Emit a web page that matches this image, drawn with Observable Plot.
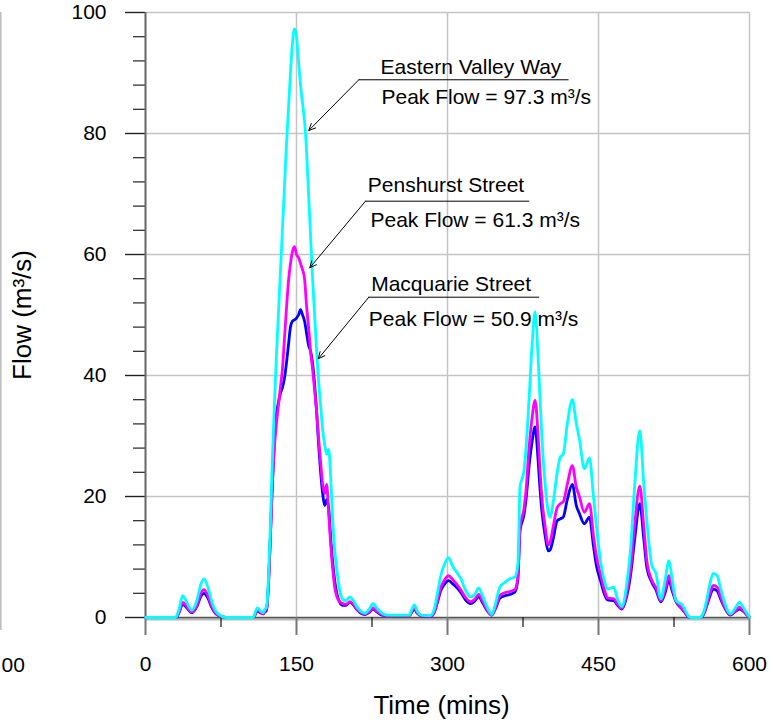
<!DOCTYPE html>
<html>
<head>
<meta charset="utf-8">
<script src="https://cdn.jsdelivr.net/npm/d3@7"></script>
<script src="https://cdn.jsdelivr.net/npm/@observablehq/plot@0.6"></script>
<style>
  html, body { margin: 0; padding: 0; background: #fff; }
  #chart { width: 783px; height: 723px; }
</style>
</head>
<body>
<div id="chart"></div>
<script>
// ---- data (time in minutes, flow in m3/s) ----
const times = [0,30,33,37,41,46,51,55,58,62,66,70,75,80,107,109,111,114,117,119,
  120,122,124,126,128,130,132,134,136,138,140,142,144,146,148,150,152,154,156,158,
  160,162,164,166,168,170,172,174,176,178,180,182,184,186,188,190,193,196,199,203,
  206,210,214,218,222,226,230,235,240,262,265,267,270,274,283,
  287,290,293,297,301,305,309,313,318,323,327,331,335,340,344,348,352,357,362,367,
  370,372,376,378,381,384,387,390,392,394,397,400,402,405,409,412,415,419,424,428,
  431,436,441,445,448,452,456,459,465,469,473,478,482,486,491,495,498,503,507,512,
  516,520,523,527,533,541,551,555,558,561,564,568,571,575,581,586,590,594,599,600];

const easternValleyWay = [0,0,1.2,3.6,2.5,1.2,2.8,5.5,6.4,5.0,2.5,1.0,0.3,0,0,0.8,1.6,1.1,0.8,1.5,
  1.5,6,15,26,35,43,50,57,64,71,78,84,90,95,97.3,96,92,88,85,82,
  77,70,63,56,50,44,39,35,31,28.5,27,27.8,23,16,11,8,4.5,3.0,2.8,3.4,
  2.9,1.8,1.0,0.7,1.3,2.3,1.5,0.7,0.4,0.4,1.5,2.1,1.0,0.4,0.3,
  1.5,4.0,6.7,8.8,9.9,8.5,7.5,6.5,4.5,3.4,3.8,4.9,3.5,1.5,0.5,2.5,5.0,5.8,6.4,6.7,
  9,21.5,24.3,28,36,45,50.5,43,36,29,22,17.5,16.6,19,24,26.5,27,32,36,32,
  29.5,24.6,26.4,20,15,9.4,6,4.7,5.0,3,1.8,5.5,11.6,22,30.9,22,16,8.6,7.3,3.1,
  6,9.4,6.5,2.8,2.1,0,0,1.2,3.4,5.8,7.3,6.9,5.0,2.6,0.6,1.6,2.5,1.6,0.3,0.1];

const penshurstStreet = [0,0,0.8,2.5,1.8,0.9,2.0,4.0,4.6,3.6,1.8,0.7,0.2,0,0,0.6,1.3,0.9,0.6,1.2,
  1.2,5,13,22,28,32,35,38,41,46,51,55.5,58.5,60.5,61.3,60,59.5,58.5,57.5,56,
  51.5,48,44,41,37.5,34,29.5,25.5,22,20.5,22,17,12,8,5,3.5,2.6,2.3,2.2,2.6,
  2.3,1.4,0.8,0.6,0.9,1.6,1.0,0.5,0.3,0.3,1.2,1.6,0.8,0.3,0.2,
  1.0,2.8,4.8,6.2,6.9,6.3,5.5,4.6,3.3,2.6,3.0,3.8,2.7,1.1,0.4,1.8,3.6,4.1,4.3,4.6,
  7,14.9,18.0,21,28,33,35.9,30,24,19.3,15,12,12.5,15,18.2,18.8,19.1,22,25.1,21.5,
  20,17.4,18.8,13.5,10,7.2,4.5,3.2,3.1,2.2,1.5,4,8.3,15.5,21.7,15,9.4,6.1,5.0,2.8,
  4.5,6.9,5,2.8,1.5,0,0,0.8,2.4,4.2,5.3,5.0,3.6,1.9,0.5,1.1,1.7,1.1,0.2,0.1];

const macquarieStreet = [0,0,0.7,2.2,1.6,0.8,1.8,3.5,4.0,3.2,1.6,0.6,0.2,0,0,0.5,1.1,0.8,0.6,1.1,
  1.0,5,13,22,29,33.5,35.5,37,38,39.5,42,45,48,49,49.2,49.5,50,50.9,50,49,
  47,45,44,42,38.5,34,28.5,24,20.5,18.5,19.5,18,13,9,6,4,2.5,2.0,2.0,2.5,
  2.2,1.3,0.7,0.5,0.8,1.4,0.9,0.4,0.3,0.3,1.0,1.4,0.7,0.3,0.2,
  0.9,2.5,4.3,5.5,6.1,5.6,5.0,4.2,2.9,2.3,2.7,3.4,2.4,1.0,0.4,1.6,3.2,3.6,3.8,4.2,
  6.5,14.3,17.0,19.5,25,29,31.5,26,21,17.2,13.5,11,11.2,13,16,16.3,16.6,19.5,22,18.5,
  17.2,15.5,16.6,11.8,8.5,6.1,3.8,2.9,2.8,2.0,1.4,3.5,7.2,13,18.8,13,8.3,5.8,4.6,2.6,
  4.0,6.2,4.5,2.6,1.4,0,0,0.7,2.2,3.7,4.7,4.4,3.2,1.7,0.4,1.0,1.4,1.0,0.2,0.1];

const seriesNames = ["Macquarie Street", "Penshurst Street", "Eastern Valley Way"];
const seriesColors = ["#0000ff", "#ff00ff", "#00ffff"];
const peakLabels = ["Peak Flow = 50.9 m³/s", "Peak Flow = 61.3 m³/s", "Peak Flow = 97.3 m³/s"];

const xMajorTicks = [0, 150, 300, 450, 600];
const xMinorTicks = [75, 225, 375, 525];
const yMajorTicks = [0, 20, 40, 60, 80, 100];
const yMinorTicks = d3.range(0, 101, 4).filter(v => v % 20 !== 0);

// annotation anchors (data units): title, peak text, leader start/end, arrow tip
const annTitleX = [224.2, 220.8, 233.4], annTitleY = [55.16, 71.40, 90.98];
const annPeakX  = [221.8, 223.5, 234.4], annPeakY  = [49.37, 65.62, 86.02];
const annLineX1 = [221.8, 218.5, 211.9], annLineX2 = [390.7, 380.8, 419.9], annLineY = [52.94, 68.81, 88.88];
const annTipX   = [171.6, 163.2, 162.2], annTipY   = [42.76, 57.80, 80.50];

// ---- build tables ----
const valuesBySeries = [macquarieStreet, penshurstStreet, easternValleyWay];
const rows = [];
seriesNames.forEach((s, k) => times.forEach((t, i) => rows.push({series: s, time: t, flow: valuesBySeries[k][i]})));
const ann = seriesNames.map((s, k) => ({
  title: s, peak: peakLabels[k],
  tx: annTitleX[k], ty: annTitleY[k], px: annPeakX[k], py: annPeakY[k],
  lx1: annLineX1[k], lx2: annLineX2[k], ly: annLineY[k], ax: annTipX[k], ay: annTipY[k]
}));
const underline = ann.flatMap(a => [{g: a.title, x: a.lx1, y: a.ly}, {g: a.title, x: a.lx2, y: a.ly}]);

const font = "'Liberation Sans', Arial, Helvetica, sans-serif";

const chart = Plot.plot({
  width: 783, height: 723,
  marginLeft: 145, marginRight: 34, marginTop: 12, marginBottom: 106,
  x: {domain: [0, 600]},
  y: {domain: [0, 100]},
  color: {domain: seriesNames, range: seriesColors},
  style: {fontFamily: font, fontSize: "21px", background: "#fff", color: "#000"},
  marks: [
    Plot.gridX([150, 300, 450, 600], {stroke: "#c4c4c4", strokeOpacity: 1, strokeWidth: 1.5}),
    Plot.gridY([20, 40, 60, 80, 100], {stroke: "#c4c4c4", strokeOpacity: 1, strokeWidth: 1.5}),
    Plot.ruleY([0], {stroke: "#b8b8b8", strokeWidth: 3, dy: 1.5}),
    Plot.ruleY([0], {stroke: "#555", strokeWidth: 1.3}),
    Plot.axisY(yMinorTicks, {tickSize: 12, tickFormat: () => "", stroke: "#222", strokeWidth: 1.2}),
    Plot.axisY(yMajorTicks, {tickSize: 20, tickPadding: 19, stroke: "#222", strokeWidth: 1.4, fill: "#000", fontSize: 21}),
    Plot.axisX(xMinorTicks, {tickSize: 10, tickFormat: () => "", stroke: "#111", strokeWidth: 1.2}),
    Plot.axisX(xMajorTicks, {tickSize: 18, tickPadding: 21, stroke: "#777", strokeWidth: 2, fill: "#000", fontSize: 21}),
    Plot.ruleX([0], {stroke: "#666", strokeWidth: 2}),
    Plot.line(rows, {x: "time", y: "flow", z: "series", stroke: "series", strokeWidth: 2.8, curve: "monotone-x"}),
    Plot.line(underline, {x: "x", y: "y", z: "g", stroke: "#000", strokeWidth: 1}),
    Plot.arrow(ann, {x1: "lx1", y1: "ly", x2: "ax", y2: "ay", stroke: "#000", strokeWidth: 1, headLength: 11, headAngle: 50}),
    Plot.text(ann, {x: "tx", y: "ty", text: "title", textAnchor: "start", fontSize: 21, fill: "#000"}),
    Plot.text(ann, {x: "px", y: "py", text: "peak", textAnchor: "start", fontSize: 21, fill: "#000"}),
    Plot.text(["Time (mins)"], {frameAnchor: "bottom", dy: 88, dx: -6, textAnchor: "middle", lineAnchor: "middle", text: d => d, fontSize: 26, fill: "#000"}),
    Plot.text(["Flow (m³/s)"], {frameAnchor: "left", dx: -123, rotate: -90, textAnchor: "middle", lineAnchor: "middle", text: d => d, fontSize: 26, fill: "#000"}),
    Plot.text(["00"], {frameAnchor: "bottom-left", dx: -144, dy: 48, textAnchor: "start", lineAnchor: "middle", text: d => d, fontSize: 21, fill: "#000"})
  ]
});

// stray edge of the neighbouring panel at the far left
const svg = d3.select(chart);
svg.append("line").attr("x1", 0.8).attr("x2", 0.8).attr("y1", 12).attr("y2", 630)
  .attr("stroke", "#bbb").attr("stroke-width", 1.5);

document.getElementById("chart").appendChild(chart);
</script>
</body>
</html>
